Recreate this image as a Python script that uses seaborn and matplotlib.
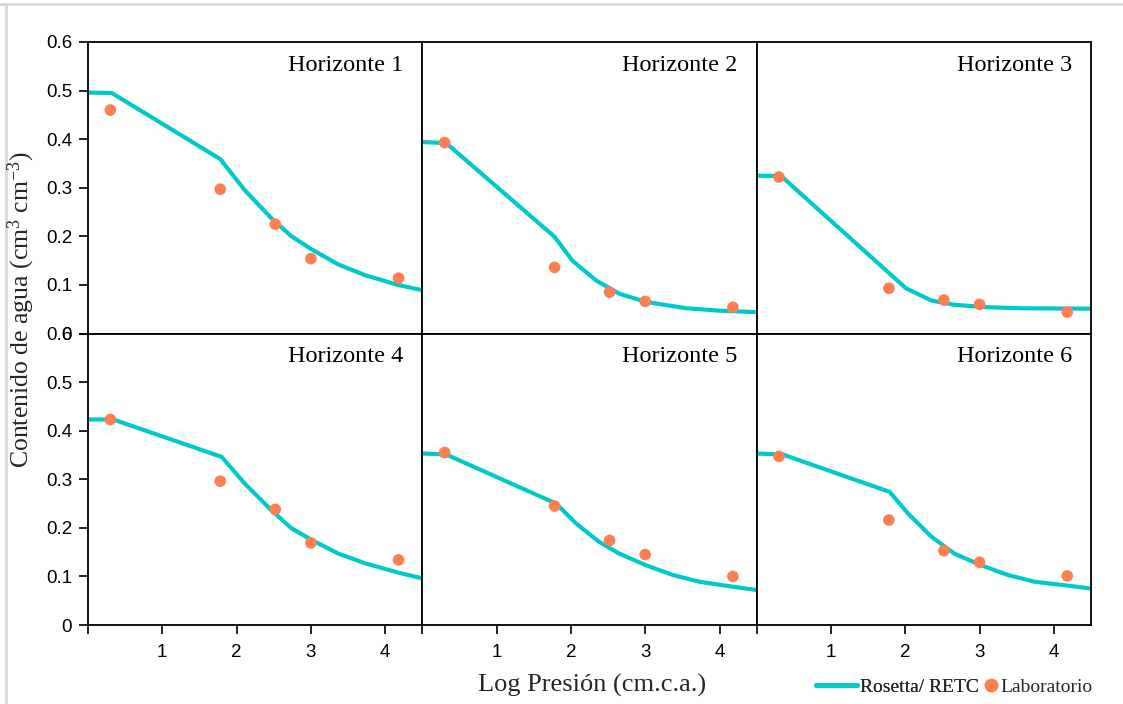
import matplotlib
matplotlib.use("Agg")
import matplotlib.pyplot as plt
from matplotlib.lines import Line2D
import numpy as np
import pandas as pd
import seaborn as sns

# ---- data -------------------------------------------------------------
horizons = ["Horizonte 1", "Horizonte 2", "Horizonte 3",
            "Horizonte 4", "Horizonte 5", "Horizonte 6"]

# laboratory measurements (log10 of suction, cm water column)
lab_logh = [0.30, 1.78, 2.52, 3.00, 4.18]
lab_h1 = [0.460, 0.297, 0.225, 0.154, 0.114]
lab_h2 = [0.393, 0.136, 0.085, 0.066, 0.054]
lab_h3 = [0.322, 0.093, 0.069, 0.060, 0.044]
lab_h4 = [0.423, 0.296, 0.238, 0.169, 0.134]
lab_h5 = [0.355, 0.245, 0.174, 0.145, 0.100]
lab_h6 = [0.347, 0.216, 0.153, 0.129, 0.101]

# Rosetta / RETC retention curves
ros_x1 = [0, 0.32, 1.78, 2.11, 2.47, 2.74, 3.00, 3.37, 3.73, 4.17, 4.5]
ros_y1 = [0.496, 0.495, 0.359, 0.295, 0.237, 0.200, 0.174, 0.142, 0.120, 0.100, 0.089]
ros_x2 = [0, 0.32, 1.78, 2.02, 2.34, 2.65, 3.01, 3.55, 4.00, 4.5]
ros_y2 = [0.394, 0.392, 0.199, 0.150, 0.109, 0.082, 0.065, 0.052, 0.047, 0.044]
ros_x3 = [0, 0.33, 2.01, 2.35, 2.66, 3.11, 3.56, 4.5]
ros_y3 = [0.325, 0.324, 0.093, 0.068, 0.059, 0.054, 0.052, 0.051]
ros_x4 = [0, 0.34, 1.80, 2.11, 2.47, 2.74, 3.01, 3.37, 3.73, 4.17, 4.5]
ros_y4 = [0.423, 0.423, 0.346, 0.291, 0.236, 0.199, 0.175, 0.147, 0.127, 0.108, 0.096]
ros_x5 = [0, 0.32, 1.80, 2.07, 2.38, 2.65, 3.01, 3.37, 3.73, 4.17, 4.5]
ros_y5 = [0.353, 0.351, 0.250, 0.209, 0.171, 0.147, 0.123, 0.103, 0.089, 0.079, 0.072]
ros_x6 = [0, 0.35, 1.79, 2.04, 2.35, 2.66, 3.02, 3.38, 3.74, 4.19, 4.5]
ros_y6 = [0.353, 0.351, 0.274, 0.229, 0.182, 0.147, 0.123, 0.103, 0.089, 0.081, 0.075]

x_ticks = [0, 1, 2, 3, 4]
x_ticklabels = ["", "1", "2", "3", "4"]
y_ticks = [0, 0.1, 0.2, 0.3, 0.4, 0.5, 0.6]
y_ticklabels = ["0", "0.1", "0.2", "0.3", "0.4", "0.5", "0.6"]

lab_sets = [lab_h1, lab_h2, lab_h3, lab_h4, lab_h5, lab_h6]
curve_sets = [(ros_x1, ros_y1), (ros_x2, ros_y2), (ros_x3, ros_y3),
              (ros_x4, ros_y4), (ros_x5, ros_y5), (ros_x6, ros_y6)]

# ---- style ------------------------------------------------------------
sns.set_theme(style="ticks")
plt.rcParams["font.family"] = ["Liberation Sans", "DejaVu Sans"]
plt.rcParams["mathtext.fontset"] = "custom"
plt.rcParams["mathtext.rm"] = "Liberation Serif"
plt.rcParams["mathtext.it"] = "Liberation Serif:italic"
plt.rcParams["mathtext.bf"] = "Liberation Serif:bold"
serif = ["Liberation Serif", "DejaVu Serif"]

LINE_C = "#00C9C9"
DOT_C = "#FF7F50"

fig, axes = plt.subplots(2, 3, figsize=(11.23, 7.04), dpi=100,
                         sharex=True, sharey=True)
fig.subplots_adjust(left=88 / 1123, right=1091 / 1123,
                    top=1 - 42 / 704, bottom=1 - 625 / 704,
                    wspace=0, hspace=0)

for i, ax in enumerate(axes.flat):
    cx, cy = curve_sets[i]
    curve = pd.DataFrame({"logh": cx, "theta": cy})
    lab = pd.DataFrame({"logh": lab_logh, "theta": lab_sets[i]})
    sns.lineplot(data=curve, x="logh", y="theta", ax=ax, color=LINE_C,
                 lw=3.0, sort=False, estimator=None, zorder=2)
    sns.scatterplot(data=lab, x="logh", y="theta", ax=ax, color=DOT_C,
                    s=70, edgecolor="none", zorder=3)
    ax.set_xlim(0, 4.5)
    ax.set_ylim(0, 0.6)
    ax.set_xlabel("")
    ax.set_ylabel("")
    for sp in ax.spines.values():
        sp.set_visible(True)
        sp.set_linewidth(1.3)
        sp.set_color("black")
    ax.annotate(horizons[i], xy=(1, 1), xycoords="axes fraction",
                xytext=(-19, -29), textcoords="offset pixels",
                ha="right", va="baseline", fontsize=17.5, family=serif,
                color="black")

    row, col = divmod(i, 3)
    ax.set_xticks(x_ticks)
    ax.set_yticks(y_ticks)
    ax.tick_params(axis="both", direction="out", length=6.5, width=1.2,
                   color="black", labelsize=13.5, labelcolor="black")
    ax.tick_params(axis="x", pad=7)
    ax.tick_params(axis="y", pad=5)
    if row == 1:
        ax.set_xticklabels(x_ticklabels)
    else:
        ax.tick_params(axis="x", bottom=False, labelbottom=False)
    if col == 0:
        ax.set_yticklabels(y_ticklabels)
    else:
        ax.tick_params(axis="y", left=False, labelleft=False)

fig.text(21 / 1123, 1 - 310 / 704,
         r"Contenido de agua (cm$^{3}$ cm$^{-3}$)", rotation=90,
         ha="center", va="center", fontsize=18.5, family=serif)
fig.text(592 / 1123, 1 - 685 / 704, "Log Presión (cm.c.a.)",
         ha="center", va="center", fontsize=19, family=serif)

# legend: cyan line entry, then a tight dot entry
leg1 = fig.legend([Line2D([], [], color=LINE_C, lw=3.5)], ["Rosetta/ RETC"],
                  loc="center left", bbox_to_anchor=(816 / 1123, 1 - 687 / 704),
                  frameon=False, prop={"family": serif, "size": 14},
                  handlelength=2.1, handletextpad=0.15,
                  borderpad=0, borderaxespad=0)
fig.add_artist(leg1)
fig.legend([Line2D([], [], color=DOT_C, marker="o", ls="none", markersize=10,
                   markeredgecolor="none")], ["Laboratorio"],
           loc="center left", bbox_to_anchor=(985 / 1123, 1 - 687 / 704),
           frameon=False, prop={"family": serif, "size": 14},
           handlelength=0.6, handletextpad=0.2,
           borderpad=0, borderaxespad=0)

# light frame along the top and left edges of the figure
fig.add_artist(Line2D([0, 1], [1 - 4 / 704, 1 - 4 / 704],
                      transform=fig.transFigure, color="#d8d8d8", lw=2))
fig.add_artist(Line2D([6 / 1123, 6 / 1123], [0, 1 - 4 / 704],
                      transform=fig.transFigure, color="#d8d8d8", lw=2))

fig.savefig("out.png", dpi=100, facecolor="white")
